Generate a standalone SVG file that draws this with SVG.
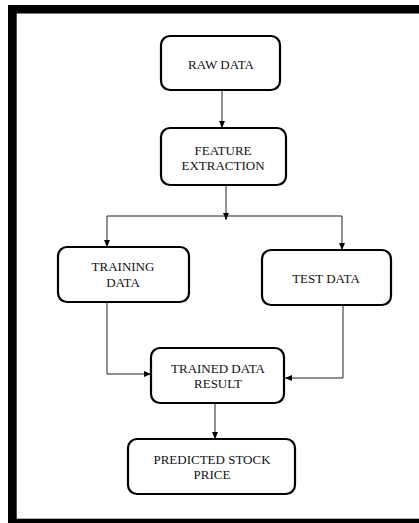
<svg xmlns="http://www.w3.org/2000/svg" width="419" height="523" viewBox="0 0 419 523">
<style>
.box{fill:#fff;stroke:#000;stroke-width:2.2}
.lbl{font-family:"Liberation Serif","Times New Roman",serif;font-size:13px;fill:#111;text-anchor:middle}
.con{fill:none;stroke:#222;stroke-width:1}
</style>
<defs>
<marker id="ah" markerUnits="userSpaceOnUse" markerWidth="8" markerHeight="6" refX="7" refY="3" orient="auto">
<path d="M0,0 L7,3 L0,6 z" fill="#000"/>
</marker>
</defs>
<rect x="0" y="0" width="419" height="523" fill="#fff"/>
<g id="frame" fill="#000">
<rect x="8" y="5" width="411" height="8.5"/>
<rect x="8" y="5" width="8.7" height="518"/>
<rect x="8" y="518.7" width="411" height="4.3"/>
</g>
<g id="connectors">
<path class="con" d="M222,90 V128" marker-end="url(#ah)"/>
<path class="con" d="M226,185 V220" marker-end="url(#ah)"/>
<path class="con" d="M107,216 H342"/>
<path class="con" d="M107,216 V247" marker-end="url(#ah)"/>
<path class="con" d="M342,216 V250" marker-end="url(#ah)"/>
<path class="con" d="M107,302 V374 H151" marker-end="url(#ah)"/>
<path class="con" d="M343,305 V378 H285" marker-end="url(#ah)"/>
<path class="con" d="M215,403 V439" marker-end="url(#ah)"/>
</g>
<g id="raw">
<rect class="box" x="161" y="36" width="119" height="54" rx="9"/>
<text class="lbl" x="221" y="68.5">RAW DATA</text>
</g>
<g id="feature">
<rect class="box" x="161" y="128" width="125" height="57" rx="9"/>
<text class="lbl" x="223" y="155">FEATURE</text>
<text class="lbl" x="223" y="170">EXTRACTION</text>
</g>
<g id="training">
<rect class="box" x="58" y="247" width="131" height="55" rx="9"/>
<text class="lbl" x="123" y="270.7">TRAINING</text>
<text class="lbl" x="123" y="286.7">DATA</text>
</g>
<g id="test">
<rect class="box" x="262" y="250" width="129" height="55" rx="9"/>
<text class="lbl" x="326" y="282.7">TEST DATA</text>
</g>
<g id="trained">
<rect class="box" x="151" y="348" width="133" height="55" rx="9"/>
<text class="lbl" x="218" y="373.3">TRAINED DATA</text>
<text class="lbl" x="218" y="387.7">RESULT</text>
</g>
<g id="predicted">
<rect class="box" x="128" y="439" width="167" height="55" rx="9"/>
<text class="lbl" x="212" y="464">PREDICTED STOCK</text>
<text class="lbl" x="212" y="479.3">PRICE</text>
</g>
</svg>
